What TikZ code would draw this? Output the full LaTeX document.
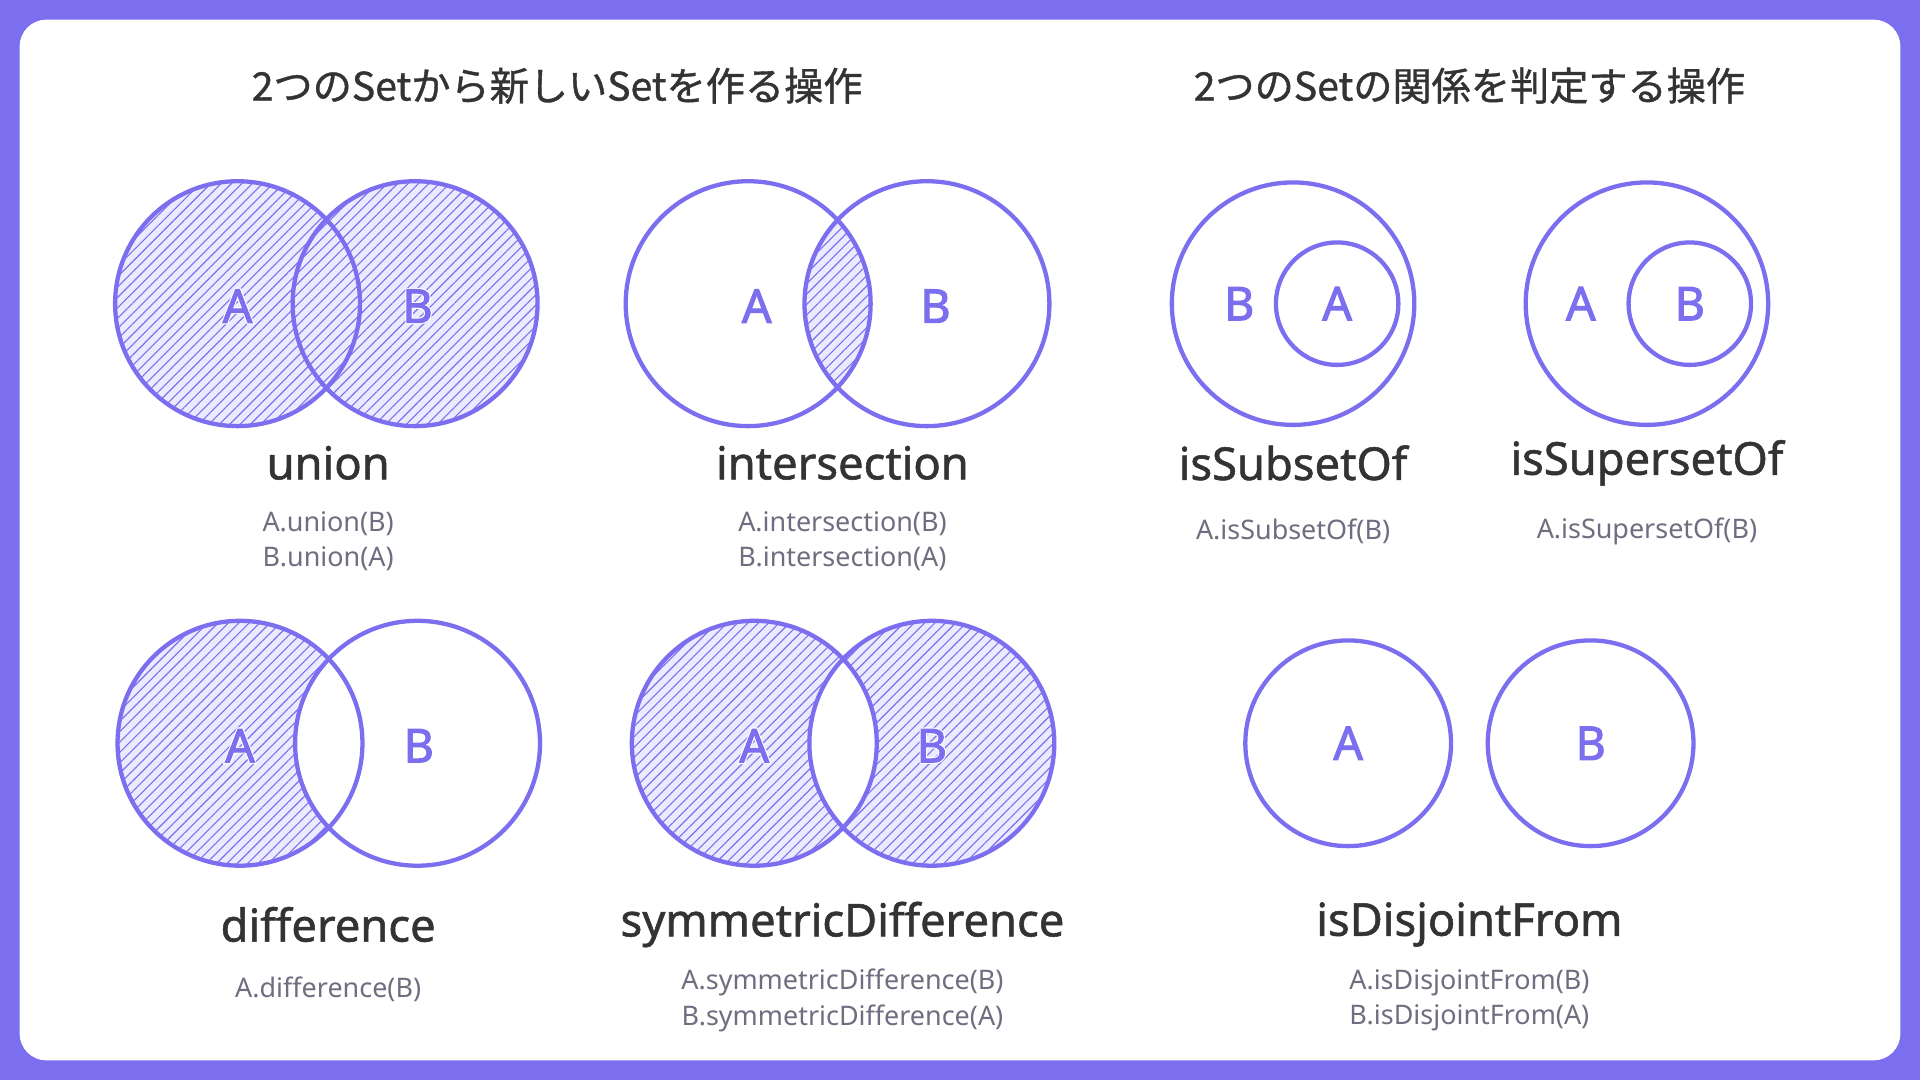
\documentclass[tikz,border=0pt]{standalone}
\usepackage{fontspec}
\setmainfont{Noto Sans}
\newfontfamily\bnoto[FakeBold=2.2]{Noto Sans}
\newfontfamily\hnoto[FakeBold=7]{Noto Sans}
\newfontfamily\mnoto[FakeBold=1.2]{Noto Sans}
\newfontfamily\jp[FakeBold=1]{Noto Sans CJK JP}
\usetikzlibrary{patterns.meta}
\definecolor{pur}{HTML}{7B6FF0}
\definecolor{lav}{HTML}{ECEAFE}
\definecolor{txt}{HTML}{333333}
\definecolor{code}{HTML}{6E6E80}
\tikzset{
  ring/.style={draw=pur,line width=3.5pt},
  hatch/.style={fill=lav,postaction={pattern={Lines[angle=45,distance=6pt,line width=0.9pt]},pattern color=pur}},
  ttl/.style={font=\jp\fontsize{32}{36}\selectfont,text=txt},
  opname/.style={font=\mnoto\fontsize{37}{40}\selectfont,text=txt},
  codes/.style={font=\fontsize{22}{29}\selectfont,text=code,align=center},
  lbl/.style={font=\bnoto\fontsize{38}{40}\selectfont,text=pur},
  halo/.style={font=\hnoto\fontsize{38}{40}\selectfont,text=white}
}
\newcommand{\hlbl}[3]{%
  \node[halo] at (#1) {#2};
  \node[lbl] (#3) at (#1) {#2};}
\begin{document}
\begin{tikzpicture}[x=1pt,y=-1pt]
\fill[pur] (0,0) rectangle (1568,882);
\fill[white,rounded corners=22pt] (16,16) rectangle (1552,866);
\node[ttl] (t1) at (455,70) {2つのSetから新しいSetを作る操作};
\node[ttl] (t2) at (1200,70) {2つのSetの関係を判定する操作};
% union
\fill[hatch] (194,248) circle (100) (339,248) circle (100);
\draw[ring] (194,248) circle (100) (339,248) circle (100);
\hlbl{194,250}{A}{ua}\hlbl{341,250}{B}{ub}
\node[opname] (un) at (268,378) {union};
\node[codes] (uc) at (268,442) {A.union(B)\\B.union(A)};
% intersection
\begin{scope}\clip (611,248) circle (100);\fill[hatch] (757,248) circle (100);\end{scope}
\draw[ring] (611,248) circle (100) (757,248) circle (100);
\node[lbl] (ia) at (618,250) {A};\node[lbl] (ib) at (764,250) {B};
\node[opname] (in) at (688,378) {intersection};
\node[codes] (ic) at (688,442) {A.intersection(B)\\B.intersection(A)};
% subset
\draw[ring] (1056,248) circle (99) (1092,248) circle (50);
\node[lbl] (sb) at (1012,248) {B};\node[lbl] (sa) at (1092,248) {A};
\node[opname] (sn) at (1056,378) {isSubsetOf};
\node[codes] (sc) at (1056,434) {A.isSubsetOf(B)};
% superset
\draw[ring] (1345,248) circle (99) (1380,248) circle (50);
\node[lbl] (pa) at (1291,248) {A};\node[lbl] (pb) at (1380,248) {B};
\node[opname] (pn) at (1345,378) {isSupersetOf};
\node[codes] (pc) at (1345,434) {A.isSupersetOf(B)};
% difference
\fill[hatch] (196,607) circle (100);
\begin{scope}\clip (196,607) circle (100);\fill[white] (341,607) circle (100);\end{scope}
\draw[ring] (196,607) circle (100) (341,607) circle (100);
\hlbl{196,609}{A}{da}\node[lbl] (db) at (342,609) {B};
\node[opname] (dn) at (268,755) {difference};
\node[codes] (dc) at (268,808) {A.difference(B)};
% symmetric difference
\fill[hatch,even odd rule] (616,607) circle (100) (761,607) circle (100);
\draw[ring] (616,607) circle (100) (761,607) circle (100);
\hlbl{616,609}{A}{ya}\hlbl{761,609}{B}{yb}
\node[opname] (yn) at (688,755) {symmetricDifference};
\node[codes] (yc) at (688,817) {A.symmetricDifference(B)\\B.symmetricDifference(A)};
% disjoint
\draw[ring] (1101,607) circle (84) (1299,607) circle (84);
\node[lbl] (ja) at (1101,607) {A};\node[lbl] (jb) at (1299,607) {B};
\node[opname] (jn) at (1200,755) {isDisjointFrom};
\node[codes] (jc) at (1200,817) {A.isDisjointFrom(B)\\B.isDisjointFrom(A)};
\end{tikzpicture}
\end{document}
